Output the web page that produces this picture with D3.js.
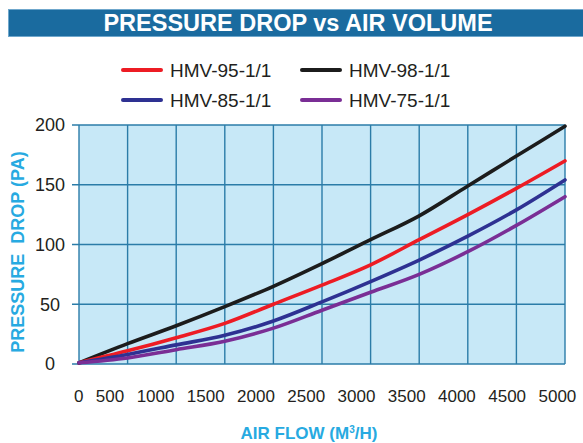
<!DOCTYPE html>
<html>
<head>
<meta charset="utf-8">
<script src="https://cdn.jsdelivr.net/npm/d3@7"></script>
<style>
  body { margin: 0; background: #fff; }
  svg { display: block; font-family: "Liberation Sans", Arial, sans-serif; }
</style>
</head>
<body>
<div id="chart"></div>
<script>
// air flow steps (m3/h) and pressure drop (Pa)
var flow = [0, 500, 1000, 1500, 2000, 2500, 3000, 3500, 4000, 4500, 5000];
var hmv95 = [1, 11, 22, 34, 50, 66, 83, 104, 125, 147, 170];
var hmv98 = [1, 17, 32, 48, 65, 84, 104, 124, 149, 174, 199];
var hmv85 = [1, 8, 16, 24, 36, 52, 69, 87, 107, 129, 154];
var hmv75 = [1, 5, 12, 19, 30, 45, 60, 75, 94, 116, 140];
var seriesNames = ["HMV-95-1/1", "HMV-98-1/1", "HMV-85-1/1", "HMV-75-1/1"];
var seriesColors = ["#ed1c24", "#1c1c1c", "#2e3192", "#7a2e95"];
var xTickLabels = ["0", "500", "1000", "1500", "2000", "2500", "3000", "3500", "4000", "4500", "5000"];
var yTicks = [0, 50, 100, 150, 200];

var width = 583, height = 443;
var svg = d3.select("#chart").append("svg")
    .attr("width", width)
    .attr("height", height);

// title bar
svg.append("rect")
    .attr("x", 8.5).attr("y", 9.5)
    .attr("width", 580).attr("height", 27)
    .attr("fill", "#1a6b9f")
    .attr("stroke", "#6fa7cc")
    .attr("stroke-width", 1);
svg.append("text")
    .attr("x", 298).attr("y", 31)
    .attr("text-anchor", "middle")
    .attr("fill", "#fff")
    .attr("font-weight", "bold")
    .attr("font-size", "23.5px")
    .text("PRESSURE DROP vs AIR VOLUME");

var x = d3.scaleLinear().domain([0, 5000]).range([79, 565]);
var y = d3.scaleLinear().domain([0, 200]).range([364, 125]);

// plot background
svg.append("rect")
    .attr("x", x(0)).attr("y", y(200))
    .attr("width", x(5000) - x(0)).attr("height", y(0) - y(200))
    .attr("fill", "#c7e8f7");

var gridColor = "#2b7ca8";
svg.append("g").selectAll("line")
    .data(x.ticks(10))
  .enter().append("line")
    .attr("x1", function(d){ return x(d); })
    .attr("x2", function(d){ return x(d); })
    .attr("y1", y(0)).attr("y2", y(200))
    .attr("stroke", gridColor)
    .attr("stroke-width", 1.4);
svg.append("g").selectAll("line")
    .data(yTicks)
  .enter().append("line")
    .attr("x1", x(0) - 7).attr("x2", x(5000))
    .attr("y1", function(d){ return y(d); })
    .attr("y2", function(d){ return y(d); })
    .attr("stroke", gridColor)
    .attr("stroke-width", 1.4);

// y tick labels
svg.append("g").selectAll("text")
    .data(yTicks)
  .enter().append("text")
    .attr("x", 50)
    .attr("y", function(d){ return y(d); })
    .attr("dy", "0.36em")
    .attr("text-anchor", "middle")
    .attr("font-size", "18px")
    .attr("fill", "#231f20")
    .text(function(d){ return d; });

// x tick labels laid out as one spaced row
var xl = svg.append("g").selectAll("text")
    .data(xTickLabels)
  .enter().append("text")
    .attr("y", 402)
    .attr("font-size", "17px")
    .attr("fill", "#231f20")
    .text(function(d){ return d; });
var cx = 74;
xl.each(function(){
    d3.select(this).attr("x", cx);
    cx += this.getComputedTextLength() + 12.4;
});

// axis titles
svg.append("text")
    .attr("transform", "translate(24,252) rotate(-90)")
    .attr("text-anchor", "middle")
    .attr("font-weight", "bold")
    .attr("font-size", "18px")
    .attr("fill", "#27aae1")
    .style("white-space", "pre")
    .text("PRESSURE  DROP (PA)");
var xt = svg.append("text")
    .attr("x", 309).attr("y", 439)
    .attr("text-anchor", "middle")
    .attr("font-weight", "bold")
    .attr("font-size", "17px")
    .attr("fill", "#27aae1");
xt.append("tspan").text("AIR FLOW (M");
xt.append("tspan").attr("font-size", "10px").attr("dy", "-6").text("3");
xt.append("tspan").attr("dy", "6").text("/H)");

// curves
var allSeries = [hmv95, hmv98, hmv85, hmv75];
var line = d3.line()
    .x(function(d, i){ return x(flow[i]); })
    .y(function(d){ return y(d); })
    .curve(d3.curveMonotoneX);
var drawOrder = [1, 0, 2, 3];
drawOrder.forEach(function(k){
    svg.append("path")
        .datum(allSeries[k])
        .attr("d", line)
        .attr("fill", "none")
        .attr("stroke", seriesColors[k])
        .attr("stroke-width", 3.6)
        .attr("stroke-linecap", "round");
});

// legend, two rows of two
var legendCols = [123, 302];
var legendRows = [70, 100];
seriesNames.forEach(function(name, i){
    var lx = legendCols[i % 2], ly = legendRows[Math.floor(i / 2)];
    svg.append("line")
        .attr("x1", lx).attr("x2", lx + 38)
        .attr("y1", ly).attr("y2", ly)
        .attr("stroke", seriesColors[i])
        .attr("stroke-width", 4)
        .attr("stroke-linecap", "round");
    svg.append("text")
        .attr("x", lx + 47).attr("y", ly)
        .attr("dy", "0.36em")
        .attr("font-size", "19px")
        .attr("fill", "#231f20")
        .text(name);
});
</script>
</body>
</html>
